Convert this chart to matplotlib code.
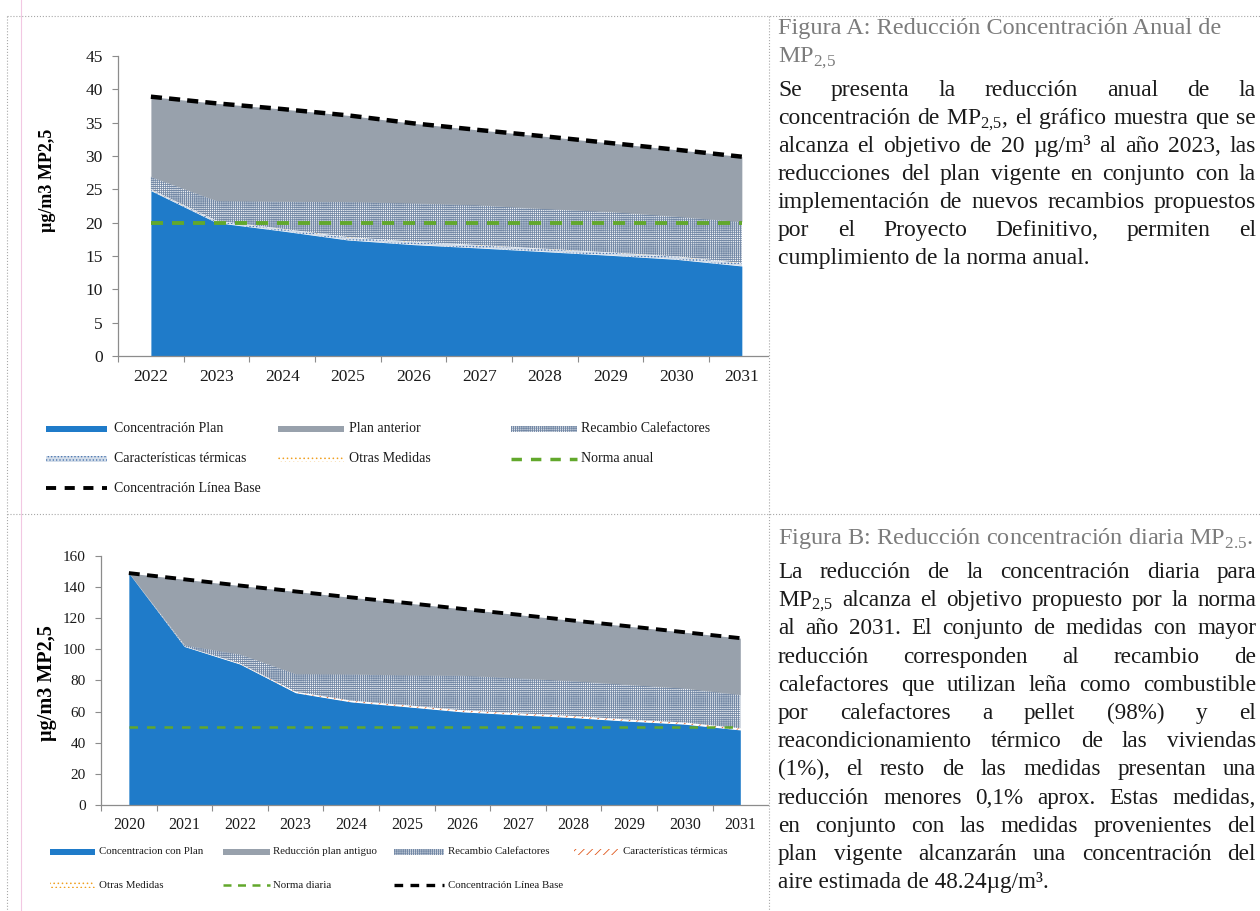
import matplotlib.pyplot as plt
import numpy as np
from matplotlib.patches import Rectangle

plt.rcParams['font.family'] = ['Liberation Serif', 'DejaVu Serif']
plt.rcParams['mathtext.fontset'] = 'custom'
plt.rcParams['mathtext.rm'] = 'Liberation Serif'
plt.rcParams['hatch.linewidth'] = 0.6

# ---- datos figura A (concentracion anual) ----
anios_a = ['2022', '2023', '2024', '2025', '2026', '2027', '2028', '2029', '2030', '2031']
plan_a = [24.8, 20.0, 18.75, 17.4, 16.7, 16.2, 15.65, 15.1, 14.5, 13.5]
caract_a = [0.15, 0.25, 0.3, 0.4, 0.4, 0.4, 0.4, 0.4, 0.4, 0.4]
otras_a = [0.05, 0.05, 0.05, 0.05, 0.05, 0.05, 0.05, 0.05, 0.05, 0.05]
recambio_a = [1.9, 3.0, 4.1, 5.3, 5.8, 6.0, 6.0, 6.1, 6.0, 6.2]
anterior_a = [12.0, 14.6, 13.85, 12.95, 11.95, 11.25, 10.85, 10.3, 10.0, 9.75]
base_a = [38.9, 37.9, 37.05, 36.1, 34.9, 33.9, 32.95, 31.95, 30.95, 29.9]
norma_a = [20, 20, 20, 20, 20, 20, 20, 20, 20, 20]

# ---- datos figura B (concentracion diaria) ----
anios_b = ['2020', '2021', '2022', '2023', '2024', '2025', '2026', '2027', '2028', '2029', '2030', '2031']
plan_b = [149, 101.8, 90.5, 72.1, 66.2, 63.1, 59.8, 57.9, 56.1, 53.8, 51.9, 48.2]
caract_b = [0, 0.1, 0.3, 0.6, 0.8, 0.9, 1.0, 1.0, 1.0, 1.0, 1.0, 1.0]
otras_b = [0, 0.05, 0.1, 0.1, 0.1, 0.1, 0.1, 0.1, 0.1, 0.1, 0.1, 0.1]
recambio_b = [0, 0.85, 6.0, 11.5, 17.0, 19.4, 22.4, 22.6, 22.5, 22.4, 22.0, 21.6]
antiguo_b = [0, 42.2, 44.1, 52.9, 49.3, 46.3, 42.7, 40.7, 38.8, 37.5, 36.0, 36.3]
base_b = [149, 145.0, 141.0, 137.2, 133.4, 129.8, 126.0, 122.3, 118.5, 114.8, 111.0, 107.2]
norma_b = [50, 50, 50, 50, 50, 50, 50, 50, 50, 50, 50, 50]

AZUL = '#1f7bc9'
GRIS = '#98a1ac'
VERDE = '#62a82c'
TXT = '#1a1a1a'
TRAMA = '#7489a6'

fig = plt.figure(figsize=(12.6, 9.11), dpi=100)

# fondo en coordenadas de pixel: bordes, leyendas y textos
bg = fig.add_axes([0, 0, 1, 1])
bg.set_xlim(0, 1260)
bg.set_ylim(911, 0)
bg.axis('off')

borde = dict(color='#a8a8a8', lw=0.8, ls=':')
bg.plot([7, 7], [16, 911], **borde)
bg.plot([7, 1260], [16, 16], **borde)
bg.plot([7, 1260], [514, 514], **borde)
bg.plot([769, 769], [16, 911], **borde)
bg.plot([21, 21], [0, 911], color='#f2c8e2', lw=0.8)


def areas(ax, capas, x):
    abajo = np.zeros(len(x))
    for vals, fc, hatch, ec in capas:
        arriba = abajo + np.array(vals)
        ax.fill_between(x, abajo, arriba, facecolor=fc, hatch=hatch,
                        edgecolor=ec, linewidth=0)
        abajo = arriba


def ejes(ax, etiquetas, lim_x, yticks, fs_y, fs_x):
    n = len(etiquetas)
    ax.set_facecolor('none')
    ax.set_xlim(*lim_x)
    ax.set_ylim(yticks[0], yticks[-1])
    for s in ['top', 'right']:
        ax.spines[s].set_visible(False)
    for s in ['left', 'bottom']:
        ax.spines[s].set_color('#8c8c8c')
        ax.spines[s].set_linewidth(0.9)
    ax.set_yticks(yticks)
    ax.set_xticks(np.arange(-0.5, n - 1, 1))
    ax.set_xticklabels([])
    ax.set_xticks(np.arange(n), minor=True)
    ax.set_xticklabels(etiquetas, minor=True, fontsize=fs_x, color=TXT)
    ax.tick_params(axis='x', which='major', length=4, color='#8c8c8c')
    ax.tick_params(axis='x', which='minor', length=0, pad=9)
    ax.tick_params(axis='y', length=4, color='#8c8c8c', pad=7, labelsize=fs_y, labelcolor=TXT)


# ---- Figura A ----
axA = fig.add_axes([0.0937, 0.6092, 0.5159, 0.3293])
xa = np.arange(len(anios_a))
areas(axA, [(plan_a, AZUL, None, AZUL),
            (caract_a, '#d4deea', '.....', '#4f78b0'),
            (otras_a, 'white', '....', '#f0a020'),
            (recambio_a, '#f4f6f9', '++++++++', TRAMA),
            (anterior_a, GRIS, None, GRIS)], xa)
axA.plot(xa, norma_a, color=VERDE, lw=2.8, dashes=(3.1, 2.3))
axA.plot(xa, base_a, color='black', lw=3.2, dashes=(2.5, 1.6))
ejes(axA, anios_a, (-0.5, 9.4), np.arange(0, 46, 5), 12.5, 12.5)
axA.set_ylabel('µg/m3 MP2,5', fontsize=13, fontweight='bold', va='center')
axA.yaxis.set_label_coords(-0.108, 0.587)

# ---- Figura B ----
axB = fig.add_axes([0.0802, 0.1164, 0.5294, 0.2733])
xb = np.arange(len(anios_b))
areas(axB, [(plan_b, AZUL, None, AZUL),
            (caract_b, 'white', '////', '#e0561a'),
            (otras_b, 'white', '....', '#f0a020'),
            (recambio_b, '#f4f6f9', '++++++++', TRAMA),
            (antiguo_b, GRIS, None, GRIS)], xb)
axB.plot(xb, norma_b, color=VERDE, lw=1.8, dashes=(3.4, 3.6))
axB.plot(xb, base_b, color='black', lw=2.8, dashes=(2.8, 1.9))
ejes(axB, anios_b, (-0.5, 11.5), np.arange(0, 161, 20), 11, 11.5)
axB.set_ylabel('µg/m3 MP2,5', fontsize=14.5, fontweight='bold', va='center')
axB.yaxis.set_label_coords(-0.081, 0.49)


# ---- leyendas ----
def entrada(x, y, w, texto, fs, tx, fc=None, hatch=None, ec=None, linea=None):
    if linea is None:
        bg.add_patch(Rectangle((x, y - 3), w, 6, facecolor=fc, hatch=hatch,
                               edgecolor=ec, linewidth=0))
    else:
        color, lw, dash = linea
        bg.plot([x, x + w], [y, y], color=color, lw=lw, dashes=dash)
    bg.text(tx, y, texto, fontsize=fs, va='center', ha='left', color=TXT)


fa = 10
entrada(46, 429, 61, 'Concentración Plan', fa, 114, AZUL, None, AZUL)
entrada(278, 429, 66, 'Plan anterior', fa, 349, GRIS, None, GRIS)
entrada(511, 429, 66, 'Recambio Calefactores', fa, 581, '#f4f6f9', '++++++++', TRAMA)
entrada(46, 459, 61, 'Características térmicas', fa, 114, '#d4deea', '.....', '#4f78b0')
entrada(278, 459, 66, 'Otras Medidas', fa, 349, 'white', '....', '#f0a020')
entrada(511, 459, 66, 'Norma anual', fa, 581, linea=(VERDE, 2.5, (3.0, 2.6)))
entrada(46, 488, 61, 'Concentración Línea Base', fa, 114, linea=('black', 2.8, (2.6, 2.2)))

fb = 7.8
entrada(50, 852, 45, 'Concentracion con Plan', fb, 99, AZUL, None, AZUL)
entrada(223, 852, 47, 'Reducción plan antiguo', fb, 273, GRIS, None, GRIS)
entrada(394, 852, 50, 'Recambio Calefactores', fb, 448, '#f4f6f9', '++++++++', TRAMA)
entrada(574, 852, 44, 'Características térmicas', fb, 623, 'white', '////', '#e0561a')
entrada(50, 885, 45, 'Otras Medidas', fb, 99, 'white', '....', '#f0a020')
entrada(223, 885, 47, 'Norma diaria', fb, 273, linea=(VERDE, 1.8, (3.2, 2.6)))
entrada(394, 885, 50, 'Concentración Línea Base', fb, 448, linea=('black', 2.4, (2.6, 2.2)))


# ---- textos a la derecha (justificados) ----
def parrafo(lineas, x0, x1, y0, dy, size, color):
    r = fig.canvas.get_renderer()
    for i, linea in enumerate(lineas):
        y = y0 + i * dy
        if i == len(lineas) - 1:
            bg.text(x0, y, linea, fontsize=size, color=color, va='baseline', ha='left')
            continue
        palabras = linea.split()
        objs = [bg.text(0, y, p, fontsize=size, color=color, va='baseline', ha='left')
                for p in palabras]
        anchos = [o.get_window_extent(r).width for o in objs]
        hueco = (x1 - x0 - sum(anchos)) / (len(objs) - 1)
        xx = x0
        for o, w in zip(objs, anchos):
            o.set_x(xx)
            xx += w + hueco


GRIS_TIT = '#7c7c7c'
bg.text(778, 34, 'Figura A: Reducción Concentración Anual de', fontsize=17.5,
        color=GRIS_TIT, va='baseline')
bg.text(778, 62, r'MP$_{2{,}5}$', fontsize=17.5, color=GRIS_TIT, va='baseline')

texto_a = [
    'Se presenta la reducción anual de la',
    r'concentración de MP$_{2{,}5}$, el gráfico muestra que se',
    'alcanza el objetivo de 20 µg/m³ al año 2023, las',
    'reducciones del plan vigente en conjunto con la',
    'implementación de nuevos recambios propuestos',
    'por el Proyecto Definitivo, permiten el',
    'cumplimiento de la norma anual.',
]
parrafo(texto_a, 778, 1256, 96, 28, 17, TXT)

bg.text(778, 544, r'Figura B: Reducción concentración diaria MP$_{2.5}$.', fontsize=17.5,
        color=GRIS_TIT, va='baseline')

texto_b = [
    'La reducción de la concentración diaria para',
    r'MP$_{2{,}5}$ alcanza el objetivo propuesto por la norma',
    'al año 2031. El conjunto de medidas con mayor',
    'reducción corresponden al recambio de',
    'calefactores que utilizan leña como combustible',
    'por calefactores a pellet (98%) y el',
    'reacondicionamiento térmico de las viviendas',
    '(1%), el resto de las medidas presentan una',
    'reducción menores 0,1% aprox. Estas medidas,',
    'en conjunto con las medidas provenientes del',
    'plan vigente alcanzarán una concentración del',
    'aire estimada de 48.24µg/m³.',
]
parrafo(texto_b, 778, 1256, 578, 28.2, 16.7, TXT)

fig.savefig('out.png', dpi=100)
